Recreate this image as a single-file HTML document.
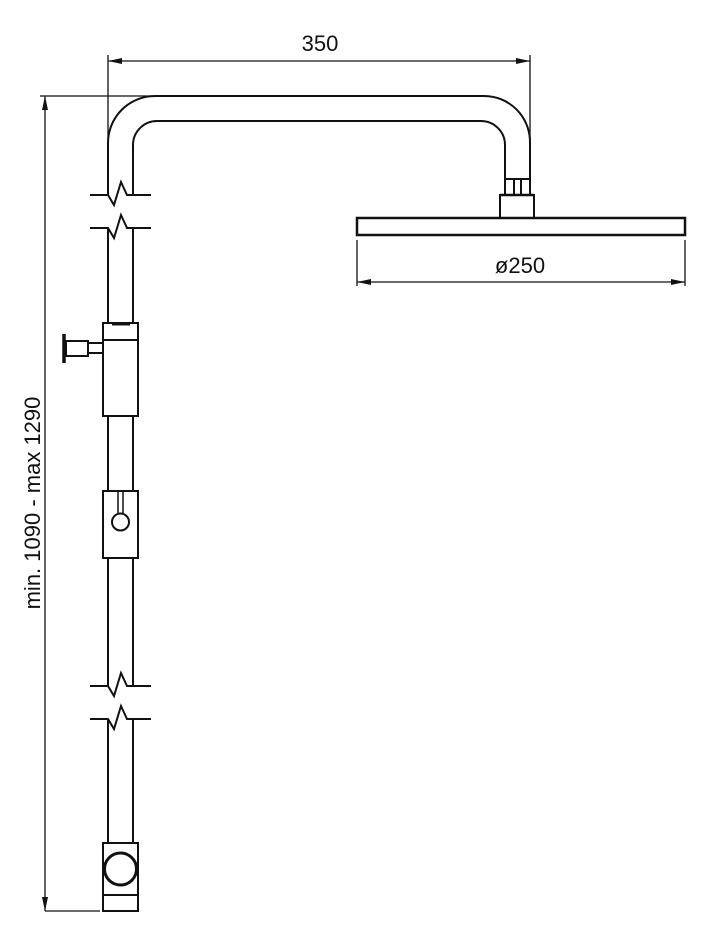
<!DOCTYPE html>
<html><head><style>html,body{margin:0;padding:0;background:#fff}</style></head><body>
<svg width="704" height="945" viewBox="0 0 704 945" xmlns="http://www.w3.org/2000/svg" font-family="Liberation Sans, Arial, sans-serif">
<defs>
<marker id="a" markerWidth="14" markerHeight="6" refX="14" refY="3" orient="auto-start-reverse" markerUnits="userSpaceOnUse"><path d="M0,0 L14,3 L0,6 z" fill="#111"/></marker>
</defs>
<g stroke="#111" fill="none" stroke-width="2">
<line x1="108" y1="61" x2="530" y2="61" stroke-width="1.3" marker-start="url(#a)" marker-end="url(#a)"/>
<line x1="108" y1="55" x2="108" y2="140" stroke-width="1.3"/>
<line x1="530" y1="55" x2="530" y2="140" stroke-width="1.3"/>
<line x1="45" y1="96" x2="45" y2="911" stroke-width="1.3" marker-start="url(#a)" marker-end="url(#a)"/>
<line x1="40" y1="96" x2="155" y2="96" stroke-width="1.3"/>
<line x1="45" y1="911" x2="100" y2="911" stroke-width="1.3"/>
<path d="M108,195 L108,143 A47,47 0 0 1 155,96 L484,96 A46,46 0 0 1 530,142 L530,179"/>
<path d="M133,195 L133,145 A24,24 0 0 1 157,121 L481,121 A24,24 0 0 1 505,145 L505,179"/>
<path d="M90,195 L108,195 L114,205 L121,182 L127,195 L151,195"/>
<path d="M90,228 L108,228 L114,238 L121,215 L127,228 L151,228"/>
<line x1="108" y1="228" x2="108" y2="323"/><line x1="133" y1="228" x2="133" y2="323"/>
<rect x="103" y="323" width="35" height="93"/>
<line x1="103" y1="340" x2="138" y2="340"/>
<line x1="112" y1="324" x2="130" y2="324" stroke-width="3"/>
<rect x="88" y="343" width="15" height="10"/>
<rect x="66" y="341" width="22" height="15"/>
<line x1="64" y1="334" x2="64" y2="363" stroke-width="3.5"/>
<line x1="108" y1="416" x2="108" y2="491"/><line x1="133" y1="416" x2="133" y2="491"/>
<rect x="103" y="491" width="35" height="67"/>
<line x1="118" y1="491" x2="118" y2="514" stroke-width="1.5"/><line x1="123" y1="491" x2="123" y2="514" stroke-width="1.5"/>
<circle cx="120.5" cy="522" r="8.5"/>
<line x1="108" y1="558" x2="108" y2="686"/><line x1="133" y1="558" x2="133" y2="686"/>
<path d="M90,686 L108,686 L114,696 L121,673 L127,686 L151,686"/>
<path d="M90,719 L108,719 L114,729 L121,706 L127,719 L151,719"/>
<line x1="108" y1="719" x2="108" y2="843"/><line x1="133" y1="719" x2="133" y2="843"/>
<rect x="103" y="843" width="35" height="68"/>
<line x1="103" y1="895" x2="138" y2="895"/>
<circle cx="120.5" cy="869" r="16" stroke-width="3"/>
<rect x="505" y="179" width="25" height="16"/>
<line x1="514" y1="179" x2="514" y2="195"/><line x1="521" y1="179" x2="521" y2="195"/>
<line x1="500" y1="195" x2="534" y2="195" stroke-width="2.5"/>
<rect x="500" y="195" width="34" height="23"/>
<rect x="357" y="218" width="328" height="17" stroke-width="2.5"/>
<line x1="357" y1="240" x2="357" y2="286" stroke-width="1.3"/>
<line x1="685" y1="240" x2="685" y2="286" stroke-width="1.3"/>
<line x1="357" y1="282" x2="685" y2="282" stroke-width="1.3" marker-start="url(#a)" marker-end="url(#a)"/>
</g>
<g fill="#111" font-size="22">
<text x="320" y="51" text-anchor="middle">350</text>
<text x="520" y="273" text-anchor="middle">ø250</text>
<text x="0" y="0" text-anchor="middle" transform="translate(40,503) rotate(-90)">min. 1090 - max 1290</text>
</g>
</svg>
</body></html>
